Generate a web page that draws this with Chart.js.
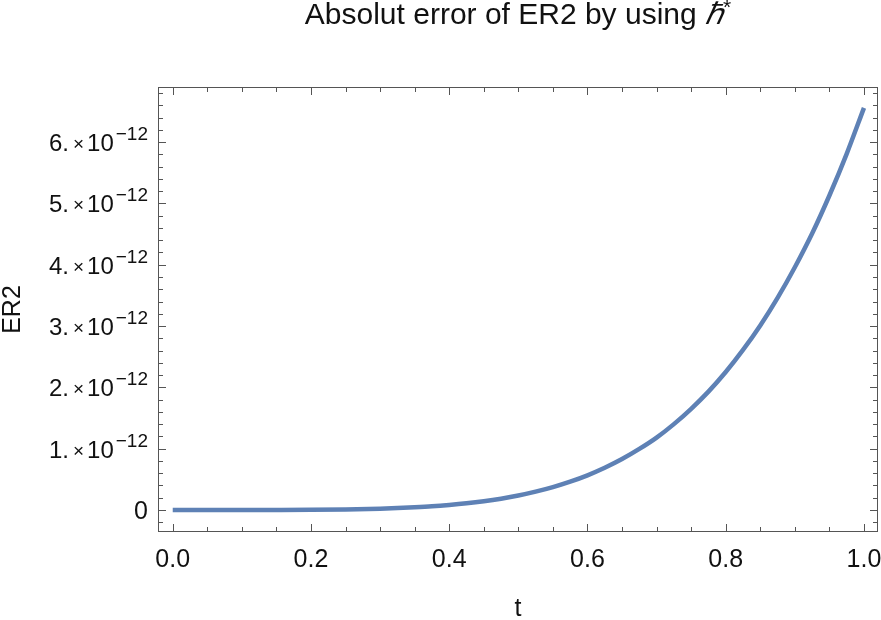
<!DOCTYPE html>
<html>
<head>
<meta charset="utf-8">
<script src="https://cdn.jsdelivr.net/npm/chart.js@4"></script>
<style>
  html, body { margin: 0; padding: 0; background: #fff; }
  #wrap { width: 881px; height: 620px; }
</style>
</head>
<body>
<div id="wrap"><canvas id="c" width="881" height="620"></canvas></div>
<script>
// ── data (ER2 in units of 1e-12) ─────────────────────────
const tValues = [0, 0.05, 0.1, 0.15, 0.2, 0.25, 0.3, 0.325, 0.35, 0.375, 0.4, 0.425, 0.45, 0.475, 0.5,
                 0.525, 0.55, 0.575, 0.6, 0.625, 0.65, 0.675, 0.7, 0.725, 0.75, 0.775, 0.8,
                 0.825, 0.85, 0.875, 0.9, 0.925, 0.95, 0.975, 1.0];
const er2Values = [0, 0, 0.0001, 0.0007, 0.003, 0.0085, 0.02, 0.03, 0.043, 0.059, 0.081, 0.108, 0.142, 0.184, 0.235,
                   0.298, 0.372, 0.461, 0.565, 0.688, 0.83, 0.995, 1.18, 1.40, 1.65, 1.93, 2.25,
                   2.61, 3.01, 3.46, 3.96, 4.51, 5.13, 5.81, 6.56];
const xMajorTicks = [0, 0.2, 0.4, 0.6, 0.8, 1.0];
const yMajorTicks = [0, 1, 2, 3, 4, 5, 6];
const yExponent = '\u221212';

const FONT = '"Liberation Sans", Arial, sans-serif';
const LINE_COLOR = '#5e81b5';
const FRAME_COLOR = '#555555';

const isMajor = (v, list) => list.some(m => Math.abs(m - v) < 1e-6);

// frame, inward ticks, labels, title — drawn the Mathematica way
const framePlugin = {
  id: 'frame',
  afterDraw(chart) {
    const { ctx, chartArea: a, scales: { x, y } } = chart;
    ctx.save();

    // frame
    ctx.strokeStyle = FRAME_COLOR;
    ctx.lineWidth = 1;
    ctx.strokeRect(a.left + 0.5, a.top + 0.5, a.right - a.left - 1, a.bottom - a.top - 1);

    // x ticks (bottom + top)
    x.ticks.forEach(tk => {
      const px = Math.round(x.getPixelForValue(tk.value)) + 0.5;
      const len = isMajor(tk.value, xMajorTicks) ? 8 : 5;
      ctx.beginPath();
      ctx.moveTo(px, a.bottom); ctx.lineTo(px, a.bottom - len);
      ctx.moveTo(px, a.top); ctx.lineTo(px, a.top + len);
      ctx.stroke();
    });
    // y ticks (left + right)
    y.ticks.forEach(tk => {
      const py = Math.round(y.getPixelForValue(tk.value)) + 0.5;
      const len = isMajor(tk.value, yMajorTicks) ? 8 : 5;
      ctx.beginPath();
      ctx.moveTo(a.left, py); ctx.lineTo(a.left + len, py);
      ctx.moveTo(a.right, py); ctx.lineTo(a.right - len, py);
      ctx.stroke();
    });

    ctx.fillStyle = '#111';
    // x labels
    ctx.font = '25px ' + FONT;
    ctx.textAlign = 'center';
    ctx.textBaseline = 'alphabetic';
    xMajorTicks.forEach(v => {
      ctx.fillText(v.toFixed(1), x.getPixelForValue(v), a.bottom + 35);
    });

    // y labels: "n. × 10^-12"
    const right = a.left - 10;
    ctx.textAlign = 'left';
    yMajorTicks.forEach(v => {
      const py = y.getPixelForValue(v);
      if (v === 0) {
        ctx.font = '25px ' + FONT;
        ctx.textAlign = 'right';
        ctx.fillText('0', right, py + 9);
        ctx.textAlign = 'left';
        return;
      }
      const parts = [
        { s: v + '.', f: '24px ', dy: 9, gap: 4 },
        { s: '\u00d7', f: '19px ', dy: 8, gap: 3 },
        { s: '10', f: '24px ', dy: 9, gap: 2 },
        { s: yExponent, f: '19px ', dy: -2, gap: 0 }
      ];
      let w = 0;
      parts.forEach(p => { ctx.font = p.f + FONT; p.w = ctx.measureText(p.s).width; w += p.w + p.gap; });
      let cx = right - w;
      parts.forEach(p => {
        ctx.font = p.f + FONT;
        ctx.fillText(p.s, cx, py + p.dy);
        cx += p.w + p.gap;
      });
    });

    // axis titles
    ctx.font = '25px ' + FONT;
    ctx.textAlign = 'center';
    ctx.fillText('t', (a.left + a.right) / 2, a.bottom + 84);
    ctx.save();
    ctx.translate(20, (a.top + a.bottom) / 2);
    ctx.rotate(-Math.PI / 2);
    ctx.textBaseline = 'alphabetic';
    ctx.fillText('ER2', 0, 0);
    ctx.restore();

    // title: "Absolut error of ER2 by using ℏ*"
    const tParts = [
      { s: 'Absolut error of ER2 by using ', f: '30px ', dy: 0 },
      { s: '\u210f', f: 'italic 30px ', dy: 0 },
      { s: '*', f: '21px ', dy: -10 }
    ];
    let tw = 0;
    tParts.forEach(p => { ctx.font = p.f + FONT; p.w = ctx.measureText(p.s).width; tw += p.w; });
    let tx = (a.left + a.right) / 2 - tw / 2;
    ctx.textAlign = 'left';
    tParts.forEach(p => {
      ctx.font = p.f + FONT;
      ctx.fillText(p.s, tx, 24 + p.dy);
      tx += p.w;
    });

    ctx.restore();
  }
};

new Chart(document.getElementById('c'), {
  type: 'line',
  data: {
    datasets: [{
      data: tValues.map((t, i) => ({ x: t, y: er2Values[i] })),
      borderColor: LINE_COLOR,
      borderWidth: 4.5,
      borderCapStyle: 'butt',
      pointRadius: 0,
      cubicInterpolationMode: 'monotone',
      fill: false
    }]
  },
  options: {
    responsive: false,
    animation: false,
    layout: { padding: { left: 158, right: 3, top: 87, bottom: 88 } },
    plugins: { legend: { display: false }, tooltip: { enabled: false }, title: { display: false } },
    scales: {
      x: {
        type: 'linear', min: -0.0213, max: 1.0203,
        ticks: { display: false, stepSize: 0.05, includeBounds: false },
        grid: { display: false }, border: { display: false },
        afterFit: s => { s.height = 0; }
      },
      y: {
        type: 'linear', min: -0.36, max: 6.9,
        ticks: { display: false, stepSize: 0.2, includeBounds: false },
        grid: { display: false }, border: { display: false },
        afterFit: s => { s.width = 0; }
      }
    }
  },
  plugins: [framePlugin]
});
</script>
</body>
</html>
